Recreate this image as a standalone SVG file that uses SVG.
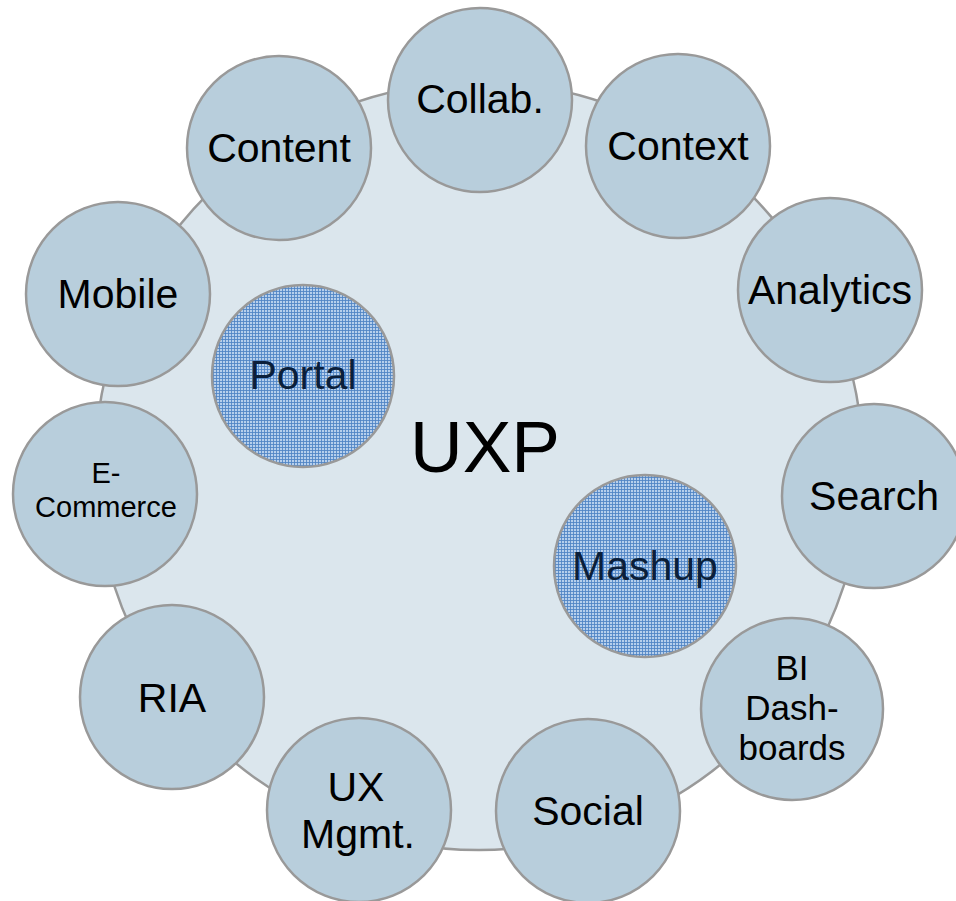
<svg xmlns="http://www.w3.org/2000/svg" width="956" height="901" viewBox="0 0 956 901">
<defs>
<pattern id="grid" width="3" height="3" patternUnits="userSpaceOnUse">
<rect width="3" height="3" fill="#b6cfec"/>
<rect y="0" width="3" height="1" fill="#4f84c4" opacity="0.85"/>
<rect x="0" width="1" height="3" fill="#4f84c4" opacity="0.85"/>
</pattern>
<style>
.big{fill:#dbe6ed;stroke:#999;stroke-width:2.5}
.sat{fill:#b8cedc;stroke:#999;stroke-width:2.5}
.hub{fill:url(#grid);stroke:#999;stroke-width:2.5}
text{font-family:"Liberation Sans",Arial,sans-serif;text-anchor:middle;fill:#000}
.l{font-size:41px}
.s{font-size:29px}
.m{font-size:35px}
.h{font-size:41px;fill:#0b1f3a}
</style>
</defs>
<rect width="956" height="901" fill="#fff"/>
<g id="uxp"><circle class="big" cx="479" cy="466" r="384"/><text x="485" y="472" style="font-size:73px">UXP</text></g>
<g id="connectors"></g>
<g id="collab"><circle class="sat" cx="480" cy="100" r="92"/><text class="l" x="480" y="113">Collab.</text></g>
<g id="context"><circle class="sat" cx="678" cy="146" r="92"/><text class="l" x="678" y="160">Context</text></g>
<g id="analytics"><circle class="sat" cx="830" cy="290" r="92"/><text class="l" x="830" y="304">Analytics</text></g>
<g id="search"><circle class="sat" cx="874" cy="496" r="92"/><text class="l" x="874" y="510">Search</text></g>
<g id="bi"><circle class="sat" cx="792" cy="709" r="91"/><text class="m" x="792" y="680">BI</text><text class="m" x="792" y="720">Dash-</text><text class="m" x="792" y="760">boards</text></g>
<g id="social"><circle class="sat" cx="588" cy="811" r="92"/><text class="l" x="588" y="825">Social</text></g>
<g id="uxmgmt"><circle class="sat" cx="359" cy="810" r="92"/><text class="l" x="356" y="801">UX</text><text class="l" x="358" y="848">Mgmt.</text></g>
<g id="ria"><circle class="sat" cx="172" cy="697" r="92"/><text class="l" x="172" y="712">RIA</text></g>
<g id="ecommerce"><circle class="sat" cx="105" cy="494" r="92"/><text class="s" x="106" y="483">E-</text><text class="s" x="106" y="517">Commerce</text></g>
<g id="mobile"><circle class="sat" cx="118" cy="294" r="92"/><text class="l" x="118" y="308">Mobile</text></g>
<g id="content"><circle class="sat" cx="279" cy="148" r="92"/><text class="l" x="279" y="162">Content</text></g>
<g id="portal"><circle class="hub" cx="303" cy="376" r="91"/><text class="h" x="303" y="389">Portal</text></g>
<g id="mashup"><circle class="hub" cx="645" cy="566" r="91"/><text class="h" x="645" y="580">Mashup</text></g>
</svg>
